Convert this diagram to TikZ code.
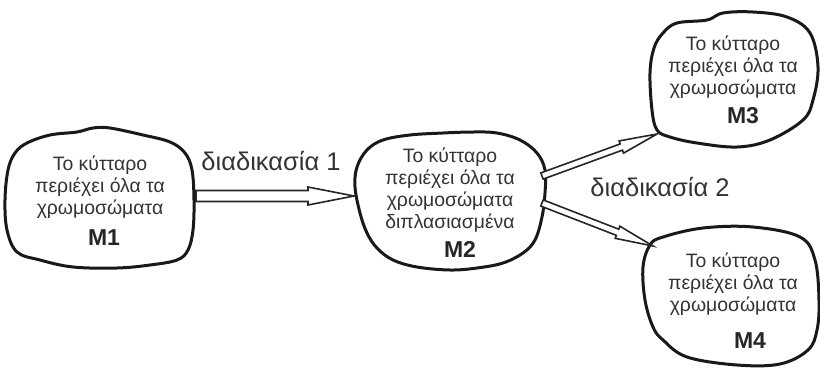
\documentclass[tikz,border=0pt]{standalone}
\usepackage{fontspec}
\setmainfont{Liberation Sans}
\usetikzlibrary{calc}

% hollow block arrow drawn as an outline from #1 to #2
% #3 shaft half width, #4 head half width, #5 head length
\newcommand\blockarrow[5]{%
  \coordinate (ba-b) at ($(#2)!#5!(#1)$);
  \draw[arrowline]
    ($(#1)!#3!90:(#2)$) -- ($(ba-b)!#3!90:(#2)$) -- ($(ba-b)!#4!90:(#2)$)
    -- (#2)
    -- ($(ba-b)!#4!-90:(#2)$) -- ($(ba-b)!#3!-90:(#2)$) -- ($(#1)!#3!-90:(#2)$)
    -- cycle;
}

\begin{document}
\begin{tikzpicture}[x=1pt,y=-1pt,
  blob/.style={draw=black!90, line width=3pt, line join=round},
  arrowline/.style={draw=black!85, line width=1.6pt, line join=miter, fill=white},
  celltext/.style={text=black!80, align=center, inner sep=0pt,
    font=\fontsize{19.4}{22}\selectfont},
  celllabel/.style={text=black!85, inner sep=0pt,
    font=\fontsize{23}{26}\selectfont\bfseries},
  steplabel/.style={text=black!80, inner sep=0pt,
    font=\fontsize{25.5}{28}\selectfont}]

\useasboundingbox (0,0) rectangle (820,370);

% cell outlines
\draw[blob] plot[smooth cycle, tension=0.6] coordinates {
  (27,143) (50,135) (77,132) (93,128) (110,128) (143,135) (170,142)
  (185,153) (192,170) (194,200) (193,230) (188,250) (177,260) (150,265)
  (117,268) (73,267) (40,260) (17,252) (7,230) (5,200) (8,170) (15,153)};
\draw[blob] plot[smooth cycle, tension=0.6] coordinates {
  (357,167) (367,150) (383,140) (410,135) (443,133) (473,132) (497,133)
  (520,140) (537,153) (545,170) (545,193) (542,217) (535,240) (523,253)
  (503,263) (477,268) (450,270) (417,267) (393,260) (377,248) (367,233)
  (360,213) (355,187)};
\draw[blob] plot[smooth cycle, tension=0.6] coordinates {
  (663,33) (677,23) (707,20) (723,13) (753,12) (787,17) (810,33)
  (818,67) (813,100) (803,120) (770,140) (737,147) (697,143) (670,137)
  (657,130) (652,110) (650,73) (654,48)};
\draw[blob] plot[smooth cycle, tension=0.6] coordinates {
  (663,237) (703,228) (753,227) (800,237) (815,260) (819,300) (817,330)
  (808,350) (780,364) (737,365) (687,357) (663,340) (653,327) (645,300)
  (643,267) (650,245)};

% cell texts
\node[celltext] (m1) at (100,187) {Το κύτταρο\\περιέχει όλα τα\\χρωμοσώματα};
\node[celllabel] (m1lab) at (104,238) {M1};
\node[celltext] (m2) at (450,190) {Το κύτταρο\\περιέχει όλα τα\\χρωμοσώματα\\διπλασιασμένα};
\node[celllabel] (m2lab) at (460,249) {M2};
\node[celltext] (m3) at (733,67) {Το κύτταρο\\περιέχει όλα τα\\χρωμοσώματα};
\node[celllabel] (m3lab) at (743,116) {M3};
\node[celltext] (m4) at (733,284) {Το κύτταρο\\περιέχει όλα τα\\χρωμοσώματα};
\node[celllabel] (m4lab) at (750,341) {M4};

% arrow ends on the cell outlines
\coordinate (m1e) at (196,196);
\coordinate (m2w) at (354,196);
\coordinate (m2ne) at (542,176);
\coordinate (m3sw) at (657,134);
\coordinate (m2se) at (542,203);
\coordinate (m4nw) at (653,246);

\blockarrow{m1e}{m2w}{5.5pt}{9pt}{46pt}
\blockarrow{m2ne}{m3sw}{3.3pt}{6.5pt}{38pt}
\blockarrow{m2se}{m4nw}{3.3pt}{6.5pt}{38pt}

% process labels
\node[steplabel] (p1) at (271,161) {διαδικασία 1};
\node[steplabel] (p2) at (660,187) {διαδικασία 2};
\end{tikzpicture}
\end{document}
